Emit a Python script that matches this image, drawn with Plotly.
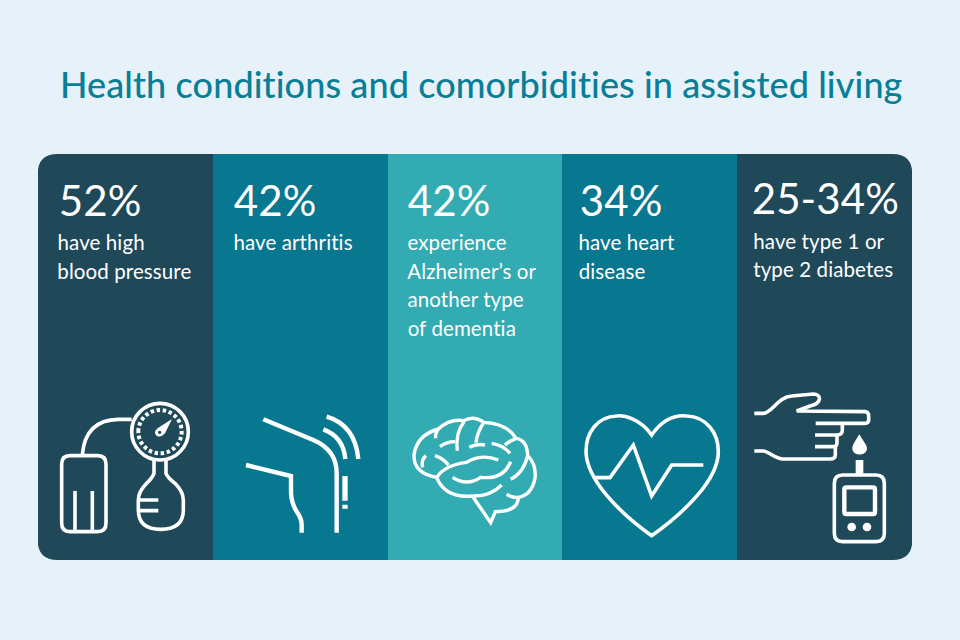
import re
import plotly.graph_objects as go

# chart content
title = "Health conditions and comorbidities in assisted living"
percents = ["52%", "42%", "42%", "34%", "25-34%"]
descriptions = [
    ["have high", "blood pressure"],
    ["have arthritis"],
    ["experience", "Alzheimer’s or", "another type", "of dementia"],
    ["have heart", "disease"],
    ["have type 1 or", "type 2 diabetes"],
]
panel_colors = ["#1F4858", "#087790", "#32ABB2", "#087790", "#1F4858"]
panel_edges = [37.7, 212.7, 387.5, 562, 737, 912.3]

BG = "#E6F1F9"
WHITE = "#FFFFFF"
FONT = "Lato"
top, bottom = 154, 560

pct_x = [57, 232, 406, 578, 750]
desc_x = [56, 232, 406, 577, 752]
pct_y = [200, 200, 200, 200, 198]
desc_y = [242, 242, 242, 242, 240.5]
line_gap = 28.5

fig = go.Figure()

# the five columns
fig.add_trace(go.Bar(
    x=[(a + b) / 2 for a, b in zip(panel_edges[:-1], panel_edges[1:])],
    y=[bottom - top] * 5,
    base=top,
    width=[b - a for a, b in zip(panel_edges[:-1], panel_edges[1:])],
    marker=dict(color=panel_colors, line=dict(width=0)),
    hoverinfo="skip",
    showlegend=False,
))

shapes = []


def zp(d, ox, oy):
    # icon paths were measured on 3x crops, bring them back to page pixels
    vals = iter([0, 1] * 1000)
    def conv(m):
        v = float(m.group(0))
        return f"{ox + v / 3:.2f}" if next(vals) == 0 else f"{oy + v / 3:.2f}"
    return re.sub(r"-?\d+\.?\d*", conv, d)


def stroke(d, ox, oy, w=3.6, dash=None):
    shapes.append(dict(type="path", path=zp(d, ox, oy), xref="x", yref="y", layer="above",
                       line=dict(color=WHITE, width=w, dash=dash),
                       fillcolor="rgba(0,0,0,0)"))


def solid(d, ox, oy, color=WHITE):
    shapes.append(dict(type="path", path=zp(d, ox, oy), xref="x", yref="y", layer="above",
                       line=dict(width=0), fillcolor=color))


def circle(cx, cy, r):
    k = 0.5523 * r
    return (f"M{cx - r},{cy} C{cx - r},{cy - k} {cx - k},{cy - r} {cx},{cy - r} "
            f"C{cx + k},{cy - r} {cx + r},{cy - k} {cx + r},{cy} "
            f"C{cx + r},{cy + k} {cx + k},{cy + r} {cx},{cy + r} "
            f"C{cx - k},{cy + r} {cx - r},{cy + k} {cx - r},{cy} Z")


def rrect(x0, y0, x1, y1, r):
    return (f"M{x0 + r},{y0} L{x1 - r},{y0} Q{x1},{y0} {x1},{y0 + r} L{x1},{y1 - r} "
            f"Q{x1},{y1} {x1 - r},{y1} L{x0 + r},{y1} Q{x0},{y1} {x0},{y1 - r} "
            f"L{x0},{y0 + r} Q{x0},{y0} {x0 + r},{y0} Z")


# rounded outer corners, page colour laid over the bar corners
r = 20
x0, x1 = panel_edges[0], panel_edges[-1]
for p in [
    f"M{x0},{top} L{x0 + r},{top} Q{x0},{top} {x0},{top + r} Z",
    f"M{x1},{top} L{x1 - r},{top} Q{x1},{top} {x1},{top + r} Z",
    f"M{x0},{bottom} L{x0 + r},{bottom} Q{x0},{bottom} {x0},{bottom - r} Z",
    f"M{x1},{bottom} L{x1 - r},{bottom} Q{x1},{bottom} {x1},{bottom - r} Z",
]:
    shapes.append(dict(type="path", path=p, xref="x", yref="y", layer="above",
                       line=dict(width=0), fillcolor=BG))

# blood pressure cuff
ox, oy = 30, 390
stroke(rrect(95, 197, 228, 425, 25), ox, oy)
stroke("M135,303 L135,420 M187,303 L187,420", ox, oy)
stroke("M157,195 Q165,90 265,88 L305,88", ox, oy)
stroke(circle(390, 125, 85), ox, oy)
stroke(circle(390, 125, 65), ox, oy, w=4, dash="3.5px,2.6px")
solid("M426,87 L405,130 Q392,145 380,137 Q368,125 385,113 Z", ox, oy)
solid(circle(389, 127, 5), ox, oy, panel_colors[0])
stroke("M372,212 L372,250 Q368,262 350,280 Q325,305 325,330 L325,360 Q325,418 392,418 "
       "Q460,418 460,360 L460,330 Q460,305 435,280 Q412,262 408,250 L408,212", ox, oy)
stroke("M330,330 L385,330 M330,362 L385,362", ox, oy)

# knee
stroke("M700,88 L850,150 Q920,180 920,250 L920,428", ox, oy, w=4.4)
stroke("M648,225 L783,258 L783,310 Q785,340 800,365 Q815,385 815,405 L815,428", ox, oy, w=4.4)
stroke("M880,118 Q940,140 946,207", ox, oy, w=4.4)
stroke("M890,80 Q975,105 985,207", ox, oy, w=4.4)
solid("M937,258 L953,258 L953,332 L937,332 Z M937,344 L953,344 L953,356 L937,356 Z", ox, oy)

# brain
ox, oy = 390, 390
for d in [
    "M140,262 Q70,250 72,195 Q80,135 145,117 Q180,85 222,92 Q250,75 282,97 Q350,100 378,145 "
    "Q412,150 413,197 Q440,225 435,265 Q425,315 385,322 Q385,365 316,365 L302,398 L247,318",
    "M108,197 Q92,210 98,232",
    "M145,117 Q135,130 137,145",
    "M202,182 Q195,130 222,95",
    "M150,170 Q170,155 195,155",
    "M258,158 Q262,125 282,97",
    "M238,172 Q260,160 285,165",
    "M305,160 Q340,165 360,190",
    "M345,165 Q355,155 378,145",
    "M135,197 Q160,205 175,225",
    "M140,262 Q165,225 230,217 Q275,190 325,210",
    "M247,318 Q165,325 140,262",
    "M188,262 Q230,290 272,262 Q340,270 362,215",
    "M362,268 Q400,250 413,197",
    "M335,285 Q300,320 247,318",
    "M350,313 Q370,325 385,322",
]:
    stroke(d, ox, oy, w=3.4)

# heart
stroke("M785,135 C750,85 700,75 680,78 C620,80 588,130 588,185 C590,270 690,370 785,437 "
       "C880,370 985,270 985,185 C985,130 950,80 890,78 C860,75 820,85 785,135 Z", ox, oy)
stroke("M615,263 L660,263 L730,165 L785,318 L845,225 L940,225", ox, oy)

# hand and glucose meter
ox, oy = 735, 380
stroke("M58,100 L85,100 C110,100 130,50 170,48 L235,42 C260,42 262,70 225,78 L185,93 "
       "L390,95 Q401,95 401,110 L401,120 Q401,130 390,130 L242,130", ox, oy)
stroke("M322,130 L322,150 Q322,165 305,165 L240,165", ox, oy)
stroke("M306,165 L306,190 Q306,200 295,200 L240,200", ox, oy)
stroke("M301,200 L301,225 Q301,237 285,237 L145,237 C120,237 100,213 85,213 L58,213", ox, oy)
solid("M373,163 C360,185 352,195 352,205 C352,230 396,230 396,205 C396,195 385,185 373,163 Z", ox, oy)
solid("M362,240 L385,240 L385,285 L362,285 Z", ox, oy)
stroke(rrect(298, 285, 448, 485, 25), ox, oy)
stroke(rrect(328, 322, 420, 402, 6), ox, oy, w=4.4)
solid(circle(350, 441, 13), ox, oy)
solid(circle(396, 441, 13), ox, oy)

fig.add_annotation(x=481, y=84, text=title, showarrow=False, xanchor="center", yanchor="middle",
                   font=dict(family=FONT, size=36, color="#097E96", weight=500))

for i in range(5):
    fig.add_annotation(x=pct_x[i], y=pct_y[i], text=percents[i], showarrow=False,
                       xanchor="left", yanchor="middle",
                       font=dict(family=FONT, size=42, color=WHITE, weight=400))
    for j, line in enumerate(descriptions[i]):
        fig.add_annotation(x=desc_x[i], y=desc_y[i] + j * line_gap, text=line, showarrow=False,
                           xanchor="left", yanchor="middle",
                           font=dict(family=FONT, size=20.5, color=WHITE, weight=400))

fig.update_layout(
    width=960, height=640,
    margin=dict(l=0, r=0, t=0, b=0),
    paper_bgcolor=BG, plot_bgcolor=BG,
    shapes=shapes,
    showlegend=False,
    bargap=0,
    xaxis=dict(range=[0, 960], visible=False, fixedrange=True),
    yaxis=dict(range=[640, 0], visible=False, fixedrange=True),
)

# page margin off, small tracking also stops the ti ligatures
page_css = """
document.body.style.margin = '0';
document.body.style.background = '#E6F1F9';
var st = document.createElement('style');
st.textContent = 'svg text { letter-spacing: 0.1px !important; }';
document.head.appendChild(st);
"""
fig.write_html("out.html", config=dict(displayModeBar=False), post_script=page_css)
